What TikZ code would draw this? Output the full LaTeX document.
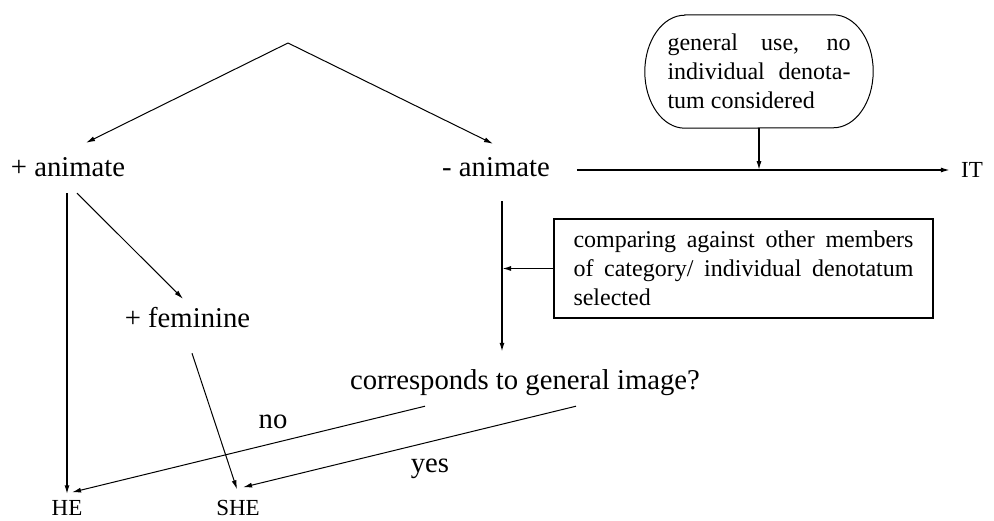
\documentclass[tikz,border=0pt]{standalone}
\usepackage{fontspec}
\setmainfont{Liberation Serif}
\usepackage{tikz}
\usetikzlibrary{arrows.meta, positioning}
\tikzset{
    x=1pt, y=1pt, % one unit is one pixel of the picture
    >={Latex[length=9pt,width=5pt]}, % narrow filled heads
    feature/.style={font=\fontsize{28.7}{34}\selectfont, inner sep=0pt, text height=20pt, text depth=6pt}, % the features and the question
    pronoun/.style={font=\fontsize{23}{28}\selectfont, inner sep=0pt, text height=15pt, text depth=0pt}, % HE, SHE, IT
    note/.style={font=\fontsize{24}{29}\selectfont, align=justify}, % the two boxed remarks
    thin edge/.style={->, line width=1pt},
    main edge/.style={->, line width=1.5pt},
}

\begin{document}
\begin{tikzpicture}
    \useasboundingbox (0,0) rectangle (994,520);
    \coordinate (root) at (288,477);
    \node[feature] (anim) at (68,350) {+ animate};
    \node[feature] (inanim) at (496,350) {- animate};
    \node[feature] (fem) at (187.5,199) {+ feminine};
    \node[feature] (corr) at (525,137) {corresponds to general image?};
    \node[feature] (no) at (273,99) {no};
    \node[feature] (yes) at (430,55) {yes};
    \node[pronoun] (it) at (972,350) {IT};
    \node[pronoun] (he) at (67,12) {HE};
    \node[pronoun] (she) at (238,12) {SHE};
    \node[note, text width=183pt, minimum width=228pt, minimum height=113pt] (general) at (759,448.5)
        {general use, no\linebreak individual denota-\linebreak tum considered};
    \node[note, draw, line width=2pt, text width=340pt, inner xsep=19.5pt, minimum height=99pt] (compare) at (743.5,251.5)
        {comparing against other members\linebreak of category/ individual denotatum\linebreak selected};
    % flat oval round the first remark
    \draw[line width=1pt] ([xshift=40pt]general.north west) -- ([xshift=-40pt]general.north east)
        arc[start angle=90, end angle=-90, x radius=40pt, y radius=56.5pt]
        -- ([xshift=40pt]general.south west)
        arc[start angle=270, end angle=90, x radius=40pt, y radius=56.5pt] -- cycle;

    \draw[thin edge] (root) -- ([shift={(18,14)}]anim.north);
    \draw[thin edge] (root) -- ([shift={(-3,13)}]inanim.north);
    \draw[main edge] ([shift={(-1,-10)}]anim.south) -- ([yshift=6pt]he.north);
    \draw[thin edge] ([shift={(9,-10)}]anim.south) -- ([shift={(-4.5,9)}]fem.north);
    \draw[thin edge] ([shift={(4.5,-19)}]fem.south) -- ([shift={(-1,11)}]she.north);
    \draw[main edge] ([xshift=27pt]inanim.east) -- ([xshift=-11pt]it.west);
    \draw[main edge] (general.south) -- ([yshift=-42pt]general.south);
    \draw[main edge] ([shift={(6,-18)}]inanim.south) -- ([shift={(-23,18)}]corr.north);
    \draw[main edge] (compare.west) -- ([xshift=-51pt]compare.west);
    \draw[thin edge] ([shift={(-100,-10)}]corr.south) -- ([shift={(5,8)}]he.north);
    \draw[thin edge] ([shift={(51,-10)}]corr.south) -- ([shift={(5,13)}]she.north);
\end{tikzpicture}
\end{document}
